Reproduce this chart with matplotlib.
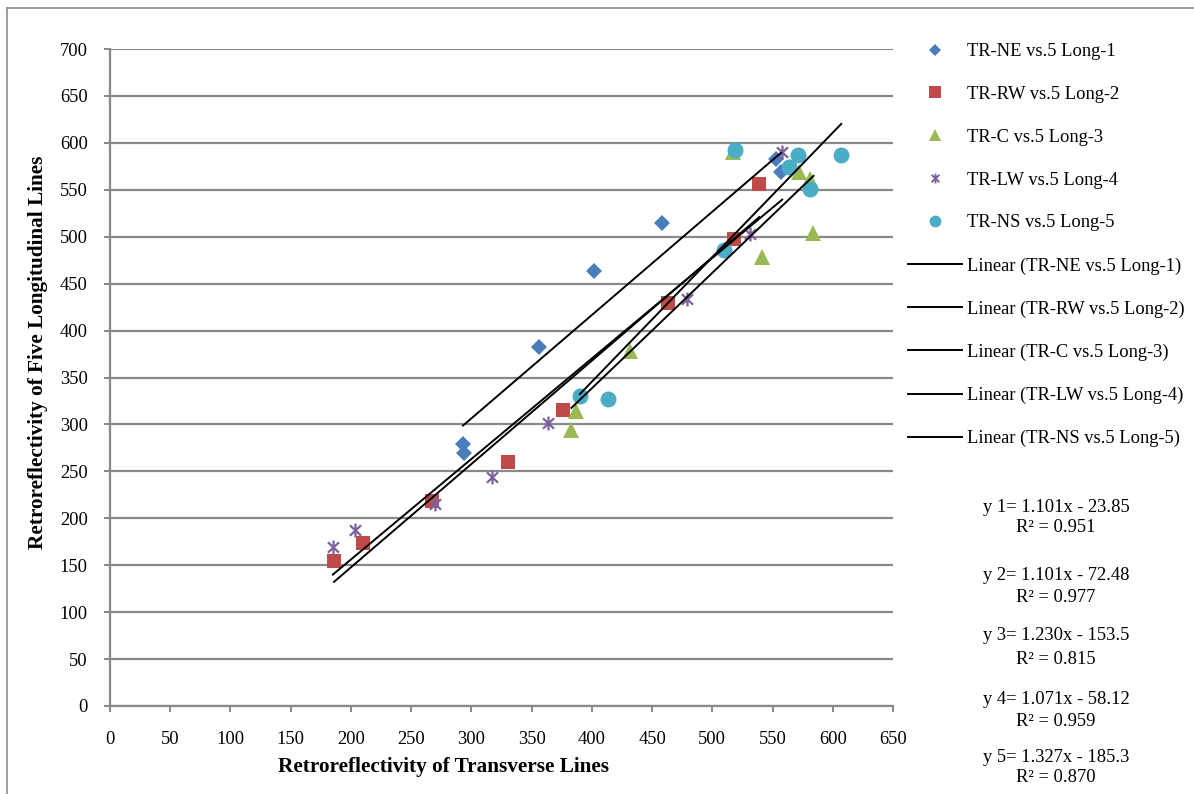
import matplotlib
matplotlib.use("Agg")
import matplotlib.pyplot as plt
import numpy as np
from matplotlib.path import Path
from matplotlib.lines import Line2D

plt.rcParams['font.family'] = ['Liberation Serif', 'DejaVu Serif']

# ---- data ----
series_names = ["TR-NE vs.5 Long-1", "TR-RW vs.5 Long-2", "TR-C vs.5 Long-3",
                "TR-LW vs.5 Long-4", "TR-NS vs.5 Long-5"]

x1 = [293, 294, 356, 402, 458, 553, 557]
y1 = [279, 270, 382, 463, 515, 583, 569]

x2 = [186, 210, 267, 330, 376, 463, 518, 539]
y2 = [154, 174, 218, 260, 315, 429, 498, 556]

x3 = [383, 387, 432, 517, 541, 572, 581, 584]
y3 = [294, 314, 378, 590, 478, 569, 561, 504]

x4 = [185, 203, 270, 317, 364, 479, 531, 558]
y4 = [169, 187, 215, 244, 302, 434, 503, 590]

x5 = [390, 413, 510, 519, 564, 571, 581, 607]
y5 = [330, 327, 486, 592, 574, 587, 551, 587]

slopes = [1.101, 1.101, 1.230, 1.071, 1.327]
intercepts = [-23.85, -72.48, -153.5, -58.12, -185.3]
r2_values = ["0.951", "0.977", "0.815", "0.959", "0.870"]

x_ticks = list(range(0, 651, 50))
y_ticks = list(range(0, 701, 50))

# ---- styling ----
colors = ["#4a7ebb", "#be4b48", "#98b954", "#7d60a0", "#4bacc6"]
star = Path([(0, -1), (0, 1), (-0.8, -0.75), (0.8, 0.75), (-0.8, 0.75), (0.8, -0.75)],
            [Path.MOVETO, Path.LINETO, Path.MOVETO, Path.LINETO, Path.MOVETO, Path.LINETO])
markers = ["D", "s", "^", star, "o"]
msizes = [8.5, 10.5, 11, 10, 11.5]
grid_col = "#898989"

W, H = 1194, 794
fig = plt.figure(figsize=(W / 100, H / 100), dpi=100)
ax = fig.add_axes([110 / W, 1 - 706 / H, (893 - 110) / W, (706 - 49) / H])

xs = [x1, x2, x3, x4, x5]
ys = [y1, y2, y3, y4, y5]

for i in range(5):
    if i == 3:
        ax.plot(xs[i], ys[i], linestyle="none", marker=markers[i], markersize=msizes[i],
                markerfacecolor="none", markeredgecolor=colors[i], markeredgewidth=1.6,
                zorder=3 + i)
    else:
        ax.plot(xs[i], ys[i], linestyle="none", marker=markers[i], markersize=msizes[i],
                color=colors[i], markeredgewidth=0, zorder=3 + i)

handles_lines = []
for i in range(5):
    xr = np.array([min(xs[i]), max(xs[i])], dtype=float)
    h, = ax.plot(xr, slopes[i] * xr + intercepts[i], color="black", lw=1.4, zorder=10)
    handles_lines.append(h)

ax.set_xlim(0, 650)
ax.set_ylim(0, 700)
ax.set_xticks(x_ticks)
ax.set_yticks(y_ticks)
ax.yaxis.grid(True, color=grid_col, lw=1.6)
ax.set_axisbelow(True)
for s in ["top", "right"]:
    ax.spines[s].set_visible(False)
for s in ["left", "bottom"]:
    ax.spines[s].set_color(grid_col)
    ax.spines[s].set_linewidth(1.6)
ax.tick_params(axis="both", direction="out", length=4, width=1.4, color=grid_col,
               labelsize=13.3)
ax.tick_params(axis="x", pad=14)
ax.tick_params(axis="y", pad=12)

# legend
labels = series_names + ["Linear (%s)" % n for n in series_names]
leg_handles = []
for i in range(5):
    if i == 3:
        leg_handles.append(Line2D([], [], linestyle="none", marker=markers[i], markersize=7,
                                  markerfacecolor="none", markeredgecolor=colors[i],
                                  markeredgewidth=1.4))
    else:
        leg_handles.append(Line2D([], [], linestyle="none", marker=markers[i],
                                  markersize=[6.5, 8, 8, 7, 8.5][i], color=colors[i],
                                  markeredgewidth=0))
leg_handles += handles_lines
fig.legend(leg_handles, labels, loc="upper left", bbox_to_anchor=(908 / W, 1 - 43 / H),
           frameon=False, fontsize=13.3, handlelength=2.9, handletextpad=0.3,
           labelspacing=1.4, borderpad=0, borderaxespad=0)

# equations
eq_y = [(507, 528), (575, 597), (636, 659), (700, 721), (757, 778)]
for i in range(5):
    fig.text(1056 / W, 1 - eq_y[i][0] / H,
             "y %d= %.3fx - %s" % (i + 1, slopes[i], ("%g" % abs(intercepts[i]))),
             ha="center", va="center", fontsize=13.3)
    fig.text(1056 / W, 1 - eq_y[i][1] / H, "R² = %s" % r2_values[i],
             ha="center", va="center", fontsize=13.3)

# axis titles
fig.text(444 / W, 1 - 767 / H, "Retroreflectivity of Transverse Lines",
         ha="center", va="center", fontsize=15.3, fontweight="bold")
fig.text(38 / W, 1 - 352 / H, "Retroreflectivity of Five Longitudinal Lines",
         ha="center", va="center", fontsize=15.3, fontweight="bold", rotation=90)

# outer frame (left and top only visible)
fig.add_artist(Line2D([7 / W, 7 / W], [0, 1 - 8 / H], transform=fig.transFigure,
                      color="#8c8c8c", lw=1.2))
fig.add_artist(Line2D([7 / W, 1], [1 - 8 / H, 1 - 8 / H], transform=fig.transFigure,
                      color="#8c8c8c", lw=1.2))

fig.savefig("out.png", dpi=100)
